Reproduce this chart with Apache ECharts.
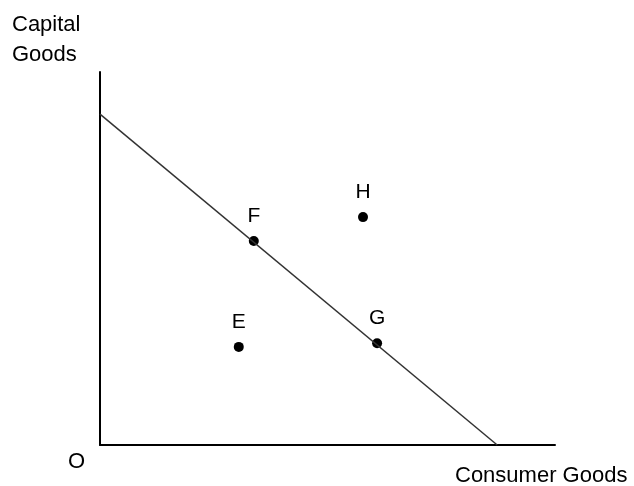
<!DOCTYPE html>
<html>
<head>
<meta charset="utf-8">
<script src="https://cdn.jsdelivr.net/npm/echarts@6/dist/echarts.min.js"></script>
<style>
  html, body { margin: 0; padding: 0; background: #fff; }
  #main { width: 634px; height: 486px; }
</style>
</head>
<body>
<div id="main"></div>
<script>
// 生产可能性边界 (两端点)
var ppfLine = [[0, 88.7], [87.3, 0]]
// 点的名称和坐标
var pointNames = ['F', 'H', 'E', 'G']
var pointX = [33.8, 57.8, 30.5, 60.9]
var pointY = [54.7, 61.1, 26.3, 27.3]

var xLabel = 'Consumer Goods'
var yLabel = ['Capital', 'Goods']
var originLabel = 'O'

var chart = echarts.init(document.getElementById('main'))

var pts = []
for (var i = 0; i < pointNames.length; i++) {
  pts.push({ name: pointNames[i], value: [pointX[i], pointY[i]] })
}

var font = 'Liberation Sans, Arial, sans-serif'

chart.setOption({
  animation: false,
  grid: { left: 100, top: 72, width: 455, height: 373 },
  xAxis: {
    type: 'value', min: 0, max: 100,
    axisLine: { show: true, onZero: false, lineStyle: { color: '#000', width: 2 } },
    axisTick: { show: false }, axisLabel: { show: false }, splitLine: { show: false }
  },
  yAxis: {
    type: 'value', min: 0, max: 100,
    axisLine: { show: true, onZero: false, lineStyle: { color: '#000', width: 2 } },
    axisTick: { show: false }, axisLabel: { show: false }, splitLine: { show: false }
  },
  series: [
    {
      type: 'line',
      data: ppfLine,
      symbol: 'none',
      lineStyle: { color: '#333', width: 1.5 }
    },
    {
      type: 'scatter',
      data: pts,
      symbolSize: 10,
      itemStyle: { color: '#000', opacity: 1 },
      label: {
        show: true,
        position: 'top',
        distance: 9,
        formatter: '{b}',
        color: '#000',
        fontSize: 21,
        fontFamily: font
      }
    }
  ],
  graphic: [
    { type: 'text', left: 12, top: 14, style: { text: yLabel[0], fill: '#000', font: '22px ' + font } },
    { type: 'text', left: 12, top: 44, style: { text: yLabel[1], fill: '#000', font: '22px ' + font } },
    { type: 'text', left: 68, top: 451, style: { text: originLabel, fill: '#000', font: '22px ' + font } },
    { type: 'text', left: 455, top: 465, style: { text: xLabel, fill: '#000', font: '22px ' + font } }
  ]
})
</script>
</body>
</html>
